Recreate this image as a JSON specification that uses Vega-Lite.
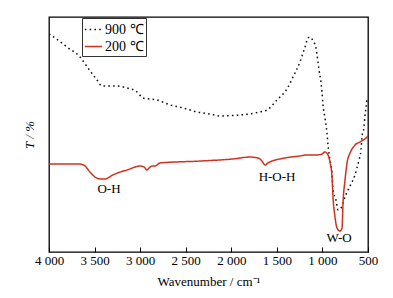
{
  "$schema": "https://vega.github.io/schema/vega-lite/v6.json",
  "width": 319,
  "height": 235,
  "autosize": {"type": "none"},
  "padding": {"left": 49, "top": 17, "right": 25, "bottom": 46},
  "background": "white",
  "config": {
    "view": {"stroke": "black", "strokeWidth": 1.3},
    "font": "Liberation Serif, Times New Roman, serif",
    "axis": {"labelFont": "Liberation Serif, Times New Roman, serif", "titleFont": "Liberation Serif, Times New Roman, serif", "grid": false, "titleFontWeight": "normal"},
    "legend": {"labelFont": "Liberation Serif, Times New Roman, serif"}
  },
  "datasets": {
    "spec": [
      {"wn": 4000, "T": 92.8, "s": "900 ℃"},
      {"wn": 3934, "T": 91.1, "s": "900 ℃"},
      {"wn": 3803, "T": 87.2, "s": "900 ℃"},
      {"wn": 3660, "T": 83.0, "s": "900 ℃"},
      {"wn": 3572, "T": 78.3, "s": "900 ℃"},
      {"wn": 3473, "T": 73.2, "s": "900 ℃"},
      {"wn": 3418, "T": 70.6, "s": "900 ℃"},
      {"wn": 3254, "T": 70.6, "s": "900 ℃"},
      {"wn": 3144, "T": 69.8, "s": "900 ℃"},
      {"wn": 3034, "T": 68.1, "s": "900 ℃"},
      {"wn": 2969, "T": 65.5, "s": "900 ℃"},
      {"wn": 2815, "T": 64.7, "s": "900 ℃"},
      {"wn": 2672, "T": 62.6, "s": "900 ℃"},
      {"wn": 2530, "T": 61.3, "s": "900 ℃"},
      {"wn": 2376, "T": 59.6, "s": "900 ℃"},
      {"wn": 2234, "T": 58.7, "s": "900 ℃"},
      {"wn": 2124, "T": 57.9, "s": "900 ℃"},
      {"wn": 1904, "T": 58.3, "s": "900 ℃"},
      {"wn": 1685, "T": 59.6, "s": "900 ℃"},
      {"wn": 1608, "T": 60.4, "s": "900 ℃"},
      {"wn": 1498, "T": 64.7, "s": "900 ℃"},
      {"wn": 1389, "T": 69.4, "s": "900 ℃"},
      {"wn": 1323, "T": 74.5, "s": "900 ℃"},
      {"wn": 1246, "T": 80.9, "s": "900 ℃"},
      {"wn": 1213, "T": 84.7, "s": "900 ℃"},
      {"wn": 1191, "T": 87.2, "s": "900 ℃"},
      {"wn": 1158, "T": 91.1, "s": "900 ℃"},
      {"wn": 1136, "T": 91.5, "s": "900 ℃"},
      {"wn": 1103, "T": 89.8, "s": "900 ℃"},
      {"wn": 1070, "T": 86.8, "s": "900 ℃"},
      {"wn": 1059, "T": 83.8, "s": "900 ℃"},
      {"wn": 1037, "T": 77.4, "s": "900 ℃"},
      {"wn": 1015, "T": 71.9, "s": "900 ℃"},
      {"wn": 1005, "T": 68.1, "s": "900 ℃"},
      {"wn": 994, "T": 62.6, "s": "900 ℃"},
      {"wn": 972, "T": 57.0, "s": "900 ℃"},
      {"wn": 950, "T": 50.6, "s": "900 ℃"},
      {"wn": 939, "T": 45.5, "s": "900 ℃"},
      {"wn": 917, "T": 39.1, "s": "900 ℃"},
      {"wn": 895, "T": 33.6, "s": "900 ℃"},
      {"wn": 884, "T": 26.4, "s": "900 ℃"},
      {"wn": 851, "T": 22.1, "s": "900 ℃"},
      {"wn": 829, "T": 17.9, "s": "900 ℃"},
      {"wn": 796, "T": 18.7, "s": "900 ℃"},
      {"wn": 752, "T": 23.4, "s": "900 ℃"},
      {"wn": 719, "T": 26.4, "s": "900 ℃"},
      {"wn": 675, "T": 29.8, "s": "900 ℃"},
      {"wn": 643, "T": 32.8, "s": "900 ℃"},
      {"wn": 621, "T": 35.7, "s": "900 ℃"},
      {"wn": 599, "T": 39.1, "s": "900 ℃"},
      {"wn": 577, "T": 43.4, "s": "900 ℃"},
      {"wn": 566, "T": 48.9, "s": "900 ℃"},
      {"wn": 544, "T": 53.2, "s": "900 ℃"},
      {"wn": 533, "T": 58.3, "s": "900 ℃"},
      {"wn": 522, "T": 61.3, "s": "900 ℃"},
      {"wn": 511, "T": 65.5, "s": "900 ℃"},
      {"wn": 4000, "T": 37.4, "s": "200 ℃"},
      {"wn": 3660, "T": 37.4, "s": "200 ℃"},
      {"wn": 3605, "T": 36.6, "s": "200 ℃"},
      {"wn": 3550, "T": 34.0, "s": "200 ℃"},
      {"wn": 3495, "T": 31.9, "s": "200 ℃"},
      {"wn": 3440, "T": 31.1, "s": "200 ℃"},
      {"wn": 3386, "T": 31.1, "s": "200 ℃"},
      {"wn": 3298, "T": 32.8, "s": "200 ℃"},
      {"wn": 3221, "T": 34.0, "s": "200 ℃"},
      {"wn": 3144, "T": 34.9, "s": "200 ℃"},
      {"wn": 3002, "T": 36.6, "s": "200 ℃"},
      {"wn": 2958, "T": 36.2, "s": "200 ℃"},
      {"wn": 2925, "T": 34.9, "s": "200 ℃"},
      {"wn": 2903, "T": 35.7, "s": "200 ℃"},
      {"wn": 2870, "T": 36.6, "s": "200 ℃"},
      {"wn": 2837, "T": 36.6, "s": "200 ℃"},
      {"wn": 2782, "T": 37.9, "s": "200 ℃"},
      {"wn": 2343, "T": 38.7, "s": "200 ℃"},
      {"wn": 1981, "T": 39.6, "s": "200 ℃"},
      {"wn": 1795, "T": 40.4, "s": "200 ℃"},
      {"wn": 1707, "T": 40.0, "s": "200 ℃"},
      {"wn": 1663, "T": 38.7, "s": "200 ℃"},
      {"wn": 1630, "T": 37.0, "s": "200 ℃"},
      {"wn": 1597, "T": 37.9, "s": "200 ℃"},
      {"wn": 1553, "T": 38.7, "s": "200 ℃"},
      {"wn": 1465, "T": 39.6, "s": "200 ℃"},
      {"wn": 1246, "T": 40.9, "s": "200 ℃"},
      {"wn": 1169, "T": 41.3, "s": "200 ℃"},
      {"wn": 1059, "T": 41.3, "s": "200 ℃"},
      {"wn": 1005, "T": 41.7, "s": "200 ℃"},
      {"wn": 972, "T": 42.6, "s": "200 ℃"},
      {"wn": 939, "T": 41.3, "s": "200 ℃"},
      {"wn": 917, "T": 38.3, "s": "200 ℃"},
      {"wn": 895, "T": 31.9, "s": "200 ℃"},
      {"wn": 884, "T": 23.4, "s": "200 ℃"},
      {"wn": 862, "T": 14.9, "s": "200 ℃"},
      {"wn": 840, "T": 10.2, "s": "200 ℃"},
      {"wn": 807, "T": 8.9, "s": "200 ℃"},
      {"wn": 785, "T": 10.2, "s": "200 ℃"},
      {"wn": 774, "T": 20.9, "s": "200 ℃"},
      {"wn": 752, "T": 30.6, "s": "200 ℃"},
      {"wn": 730, "T": 37.9, "s": "200 ℃"},
      {"wn": 697, "T": 42.1, "s": "200 ℃"},
      {"wn": 643, "T": 45.5, "s": "200 ℃"},
      {"wn": 588, "T": 46.8, "s": "200 ℃"},
      {"wn": 511, "T": 48.9, "s": "200 ℃"},
      {"wn": 500, "T": 49.4, "s": "200 ℃"}
    ],
    "notes": [
      {"wn": 3342, "T": 26.8, "label": "O-H"},
      {"wn": 1498, "T": 31.9, "label": "H-O-H"},
      {"wn": 818, "T": 6.0, "label": "W-O"}
    ]
  },
  "layer": [
    {
      "data": {"name": "spec"},
      "mark": {"type": "line", "interpolate": "monotone", "clip": true},
      "encoding": {
        "x": {
          "field": "wn", "type": "quantitative",
          "scale": {"domain": [500, 4000], "reverse": true, "nice": false, "zero": false},
          "axis": {
            "title": "Wavenumber / cm⁻¹",
            "titleFontSize": 13,
            "titlePadding": 8,
            "titleColor": "black",
            "values": [4000, 3750, 3500, 3250, 3000, 2750, 2500, 2250, 2000, 1750, 1500, 1250, 1000, 750, 500],
            "labelExpr": "datum.value % 500 == 0 ? replace(format(datum.value, ','), ',', ' ') : ''",
            "labelFlush": false,
            "labelOverlap": false,
            "labelFontSize": 13,
            "labelColor": "black",
            "labelPadding": 7,
            "tickSize": {"condition": {"test": "datum.value % 500 == 0", "value": -5}, "value": -3},
            "tickColor": "black",
            "tickWidth": 1,
            "domain": false
          }
        },
        "y": {
          "field": "T", "type": "quantitative",
          "scale": {"domain": [0, 100], "nice": false},
          "axis": {
            "title": "T / %",
            "titleFontStyle": "italic",
            "titleFontSize": 13,
            "titleColor": "black",
            "titlePadding": 13,
            "labels": false,
            "ticks": false,
            "domain": false
          }
        },
        "color": {
          "field": "s", "type": "nominal",
          "scale": {"domain": ["900 ℃", "200 ℃"], "range": ["#111111", "#d0321f"]},
          "legend": {
            "title": null,
            "orient": "none",
            "legendX": 33,
            "legendY": 1,
            "direction": "vertical",
            "strokeColor": "#333333",
            "padding": 2,
            "symbolType": "stroke",
            "symbolSize": 300,
            "symbolStrokeWidth": 1.5,
            "labelFontSize": 14,
            "labelColor": "black",
            "labelOffset": 2,
            "rowPadding": 0
          }
        },
        "strokeDash": {
          "field": "s", "type": "nominal",
          "scale": {"domain": ["900 ℃", "200 ℃"], "range": [[1.6, 3.2], [1, 0]]},
          "legend": null
        },
        "strokeWidth": {"value": 1.5}
      }
    },
    {
      "data": {"name": "notes"},
      "mark": {"type": "text", "font": "Liberation Serif, Times New Roman, serif", "fontSize": 13, "color": "black"},
      "encoding": {
        "x": {"field": "wn", "type": "quantitative"},
        "y": {"field": "T", "type": "quantitative"},
        "text": {"field": "label"}
      }
    }
  ]
}
